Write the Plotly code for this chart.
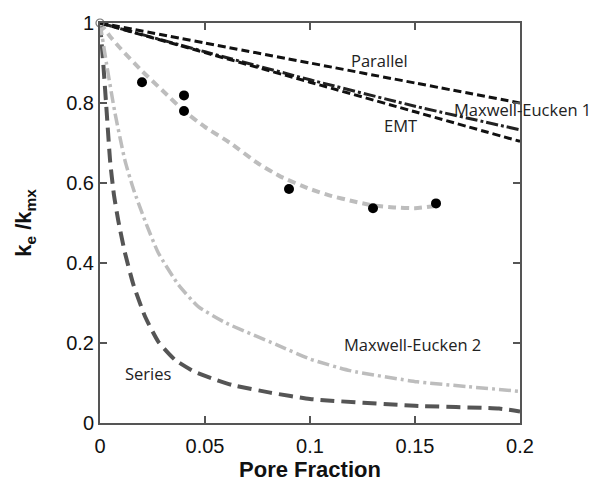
import plotly.graph_objects as go

# ---- data ----
parallel_x = [0, 0.05, 0.1, 0.15, 0.2]
parallel_y = [1, 0.95, 0.90, 0.85, 0.80]

me1_x = [0, 0.05, 0.1, 0.15, 0.2]
me1_y = [1, 0.928, 0.858, 0.792, 0.733]

emt_x = [0, 0.05, 0.1, 0.15, 0.2]
emt_y = [1, 0.926, 0.852, 0.778, 0.704]

me2_x = [0, 0.0032, 0.0071, 0.0119, 0.0159, 0.0214, 0.0278, 0.0373, 0.0468, 0.06, 0.084, 0.1, 0.119, 0.151, 0.175, 0.2]
me2_y = [1, 0.895, 0.776, 0.656, 0.585, 0.506, 0.425, 0.346, 0.291, 0.25, 0.196, 0.16, 0.131, 0.103, 0.091, 0.079]

series_x = [0, 0.0016, 0.0032, 0.0048, 0.0066, 0.0087, 0.0119, 0.0159, 0.0214, 0.0278, 0.0357, 0.045, 0.053, 0.063, 0.081, 0.1, 0.15, 0.19, 0.2]
series_y = [1, 0.895, 0.776, 0.656, 0.572, 0.506, 0.425, 0.346, 0.267, 0.203, 0.158, 0.128, 0.112, 0.095, 0.076, 0.06, 0.043, 0.036, 0.029]

fit_x = [0, 0.005, 0.01, 0.02, 0.03, 0.04, 0.05, 0.062, 0.075, 0.086, 0.1, 0.11, 0.12, 0.13, 0.14, 0.15, 0.159]
fit_y = [1, 0.965, 0.935, 0.88, 0.83, 0.78, 0.74, 0.70, 0.65, 0.616, 0.585, 0.568, 0.555, 0.544, 0.539, 0.537, 0.542]

meas_x = [0.02, 0.04, 0.04, 0.09, 0.13, 0.16]
meas_y = [0.852, 0.819, 0.78, 0.585, 0.537, 0.549]

labels = ["Parallel", "Maxwell-Eucken 1", "EMT", "Maxwell-Eucken 2", "Series"]
label_x = [0.1329, 0.1676, 0.1433, 0.1488, 0.0229]
label_y = [0.907, 0.783, 0.745, 0.196, 0.124]
label_anchor = ["center", "left", "center", "center", "center"]

x_ticks = [0, 0.05, 0.1, 0.15, 0.2]
x_ticktext = ["0", "0.05", "0.1", "0.15", "0.2"]
y_ticks = [0, 0.2, 0.4, 0.6, 0.8, 1]
y_ticktext = ["0", "0.2", "0.4", "0.6", "0.8", "1"]

fig = go.Figure()

def line(x, y, color, width, dash):
    fig.add_trace(go.Scatter(x=x, y=y, mode="lines", line=dict(color=color, width=width, dash=dash,
                                                              shape="spline", smoothing=0.5),
                             cliponaxis=False, showlegend=False, hoverinfo="skip"))

line(series_x, series_y, "#555555", 4, "14px,7px")
line(me2_x, me2_y, "#bdbdbd", 3.5, "12px,4px,3px,4px")
line(fit_x, fit_y, "#bdbdbd", 4, "8px,5px")
line(parallel_x, parallel_y, "#111111", 3, "8px,4px")
line(me1_x, me1_y, "#222222", 3, "12px,3px,3px,3px")
line(emt_x, emt_y, "#111111", 3, "8px,4px")

fig.add_trace(go.Scatter(x=meas_x, y=meas_y, mode="markers",
                         marker=dict(color="black", size=10), cliponaxis=False,
                         showlegend=False, hoverinfo="skip"))
fig.add_trace(go.Scatter(x=[0], y=[1], mode="markers",
                         marker=dict(color="rgba(0,0,0,0)", size=8, line=dict(color="#777777", width=1.2)),
                         cliponaxis=False, showlegend=False, hoverinfo="skip"))

for t, x, y, a in zip(labels, label_x, label_y, label_anchor):
    fig.add_annotation(x=x, y=y, text=t, showarrow=False, xanchor=a, yanchor="middle",
                       font=dict(family="Open Sans", size=16.5, color="#222222"))

axis_common = dict(showline=True, linecolor="#555555", linewidth=2, mirror="ticks",
                   ticks="inside", ticklen=7, tickwidth=1.5, tickcolor="#555555",
                   showgrid=False, zeroline=False,
                   tickfont=dict(family="Liberation Sans", size=20, color="#111111"))

fig.update_layout(
    width=589, height=486,
    margin=dict(l=100, r=69, t=16, b=51),
    plot_bgcolor="white", paper_bgcolor="white",
    xaxis=dict(range=[0, 0.2], tickvals=x_ticks, ticktext=x_ticktext, ticklabelstandoff=4,
               title=dict(text="<b>Pore Fraction</b>", standoff=2,
                          font=dict(family="Liberation Sans", size=22, color="#111111")),
               **axis_common),
    yaxis=dict(range=[0, 1], tickvals=y_ticks, ticktext=y_ticktext,
               title=dict(text="<b>k<sub>e</sub> /k<sub>mx</sub></b>", standoff=28,
                          font=dict(family="Liberation Sans", size=22, color="#111111")),
               **axis_common),
)

fig.write_html("out.html")
